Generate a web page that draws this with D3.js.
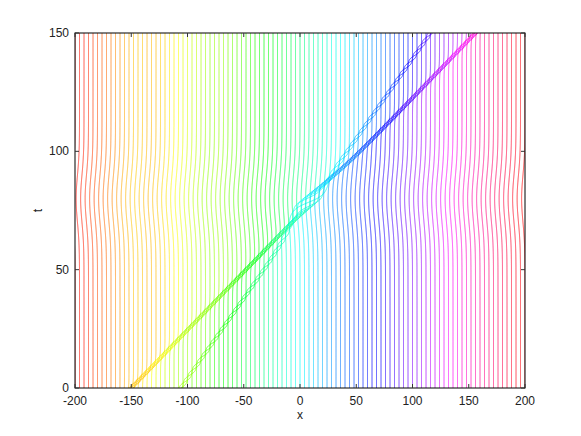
<!DOCTYPE html>
<html>
<head>
<meta charset="utf-8">
<script src="https://cdn.jsdelivr.net/npm/d3@7"></script>
<style>
  html, body { margin: 0; padding: 0; background: #fff; }
  svg text { font-family: "Liberation Sans", Arial, sans-serif; font-size: 12px; fill: #222; }
</style>
</head>
<body>
<svg id="chart" width="581" height="436"></svg>
<script>
// axis ticks
var xTicks = [-200, -150, -100, -50, 0, 50, 100, 150, 200],
    tTicks = [0, 50, 100, 150];

// visible band of each soliton: [x at t=0, x at t=150]
var fastBand = [-150, 156],
    slowBand = [-106, 116];

// displacement (D) and half width (w) each soliton gives to a particle
var solitonShift = [24, 12],
    solitonWidth = [7.2, 2.6];

// brief sideways shift of the whole lattice around the collision
var collisionT = 80,
    collisionSpan = 14,
    collisionShift = -3;

// particle spacing and time sampling
var spacing = 4,
    times = d3.range(0, 150.001, 0.1);

var plotL = 75, plotR = 525, plotT = 33, plotB = 388;

var svg = d3.select('#chart');

var x = d3.scaleLinear().domain([-200, 200]).range([plotL, plotR]),
    y = d3.scaleLinear().domain([0, 150]).range([plotB, plotT]);

var D1 = solitonShift[0], D2 = solitonShift[1];

function sig(u) { return (1 + Math.tanh(u)) / 2; }

function band(b, t) { return b[0] + (b[1] - b[0]) * t / 150; }

// lattice position of each soliton, so the drawn bands come out straight
function tracks(t) {
    var b1 = band(fastBand, t), b2 = band(slowBand, t);
    return [
        b1 - D1 / 2 - D2 * sig((b2 - b1) / 6),
        b2 - D2 / 2 - D1 * sig((b1 - b2) / 6)
    ];
}

function pos(x0, t) {
    var s = tracks(t),
        g = Math.exp(-Math.pow((t - collisionT) / collisionSpan, 2));
    return x0 + D1 * sig((s[0] - x0) / solitonWidth[0]) +
        D2 * sig((s[1] - x0) / solitonWidth[1]) + collisionShift * g;
}

var particles = d3.range(-200 - D1 - D2, 200.001, spacing);

svg.append('clipPath').attr('id', 'plot')
  .append('rect')
    .attr('x', plotL).attr('y', plotT)
    .attr('width', plotR - plotL).attr('height', plotB - plotT);

var line = d3.line()
    .x(function (d) { return x(d[0]); })
    .y(function (d) { return y(d[1]); });

var g = svg.append('g').attr('clip-path', 'url(#plot)');

particles.forEach(function (x0) {
    var start = pos(x0, 0),
        hue = ((start + 200) / 400 * 360 + 360) % 360;
    g.append('path')
        .attr('d', line(times.map(function (t) { return [pos(x0, t), t]; })))
        .attr('fill', 'none')
        .attr('stroke', d3.hsl(hue, 1, 0.5))
        .attr('stroke-width', 0.75);
});

// frame
svg.append('rect')
    .attr('x', plotL).attr('y', plotT)
    .attr('width', plotR - plotL).attr('height', plotB - plotT)
    .attr('fill', 'none').attr('stroke', '#000').attr('stroke-width', 1);

var ticks = svg.append('g').attr('stroke', '#333').attr('stroke-width', 1);
xTicks.forEach(function (v) {
    ticks.append('line').attr('x1', x(v)).attr('x2', x(v)).attr('y1', plotB).attr('y2', plotB - 4);
    ticks.append('line').attr('x1', x(v)).attr('x2', x(v)).attr('y1', plotT).attr('y2', plotT + 4);
});
tTicks.forEach(function (v) {
    ticks.append('line').attr('x1', plotL).attr('x2', plotL + 4).attr('y1', y(v)).attr('y2', y(v));
    ticks.append('line').attr('x1', plotR).attr('x2', plotR - 4).attr('y1', y(v)).attr('y2', y(v));
});

svg.selectAll('.xl').data(xTicks).enter().append('text')
    .attr('x', function (d) { return x(d); })
    .attr('y', plotB + 17)
    .attr('text-anchor', 'middle')
    .text(function (d) { return d; });

svg.selectAll('.yl').data(tTicks).enter().append('text')
    .attr('x', plotL - 6)
    .attr('y', function (d) { return y(d) + 4; })
    .attr('text-anchor', 'end')
    .text(function (d) { return d; });

svg.append('text').attr('x', (plotL + plotR) / 2).attr('y', plotB + 31)
    .attr('text-anchor', 'middle').text('x');
svg.append('text')
    .attr('transform', 'translate(42,' + ((plotT + plotB) / 2) + ') rotate(-90)')
    .attr('text-anchor', 'middle').text('t');
</script>
</body>
</html>
